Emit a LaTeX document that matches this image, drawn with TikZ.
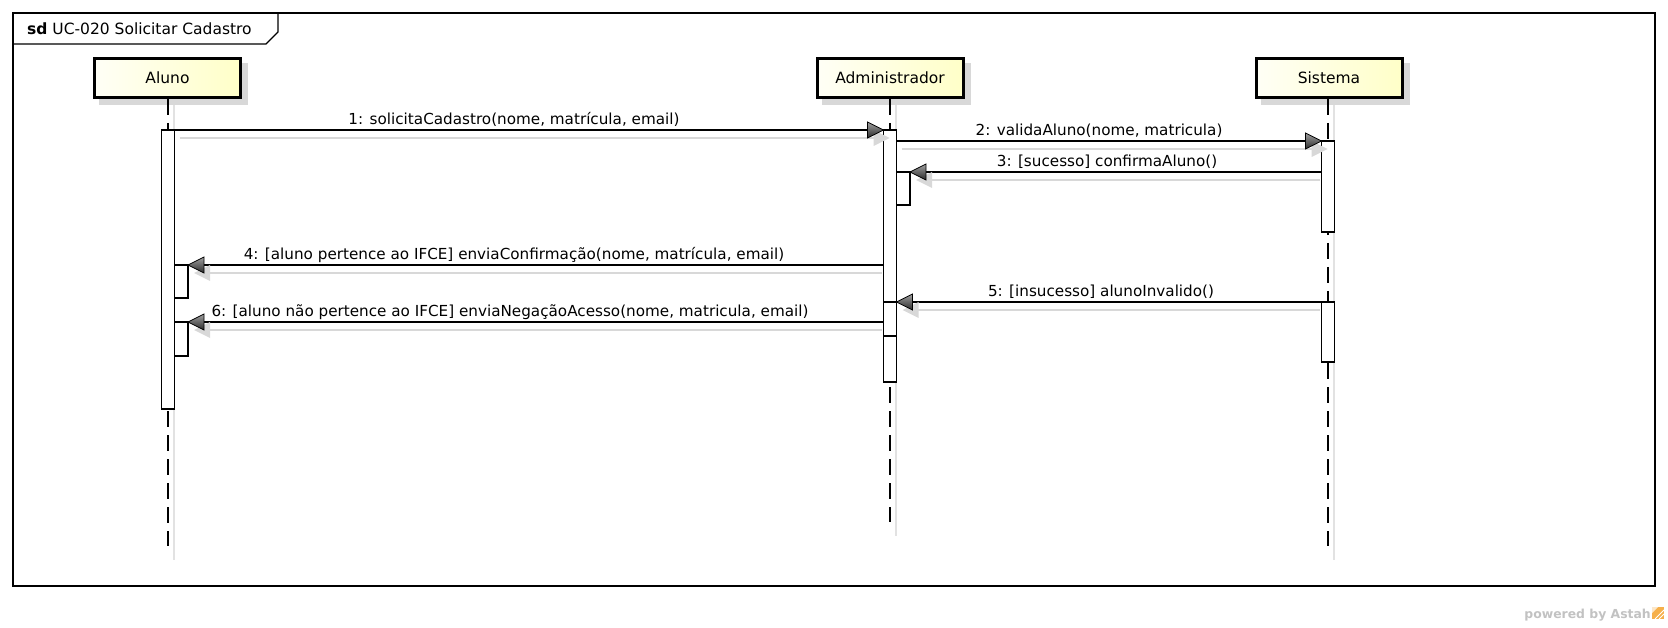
\documentclass[tikz,border=0pt]{standalone}
\usepackage{fontspec}
\setmainfont{DejaVu Sans}
\usetikzlibrary{calc}

\definecolor{shadowgray}{HTML}{D8D8D8}
\definecolor{lifeshadow}{HTML}{E2E2E2}
\definecolor{boxleft}{HTML}{FFFFF6}
\definecolor{boxright}{HTML}{FFFFC8}
\definecolor{tiplight}{HTML}{A0A0A0}
\definecolor{tipdark}{HTML}{2A2A2A}
\definecolor{wmgray}{HTML}{C2C2C2}
\definecolor{logoorange}{HTML}{F6B04A}

\tikzset{
  actor/.style={draw=black, line width=3pt, left color=boxleft, right color=boxright,
    minimum width=146pt, minimum height=39pt, inner sep=0pt,
    font=\fontsize{15.5}{18}\selectfont},
  actorshadow/.style={fill=shadowgray, draw=none, minimum width=149pt, minimum height=42pt, inner sep=0pt},
  lifeline/.style={draw=black, line width=1.3pt, dash pattern=on 16pt off 8pt},
  lifeshade/.style={draw=lifeshadow, line width=1.3pt},
  actbar/.style={draw=black, fill=white, line width=1.2pt, minimum width=13pt, inner sep=0pt},
  msgline/.style={draw=black, line width=1.2pt},
  msgshade/.style={draw=shadowgray, line width=1.4pt},
  msglabel/.style={anchor=base, inner sep=0pt, font=\fontsize{15.2}{18}\selectfont},
  framebox/.style={draw=black, line width=1.2pt},
}

% filled, shaded arrowheads with a soft shadow; #1 is the tip
\newcommand\tipright[1]{%
  \fill[shadowgray] ($(#1)+(6,8)$) -- ++(-16,-8) -- ++(0,16) -- cycle;
  \shadedraw[top color=tiplight, bottom color=tipdark, draw=black, line width=0.8pt]
    (#1) -- ++(-16,-8) -- ++(0,16) -- cycle;}
\newcommand\tipleft[1]{%
  \fill[shadowgray] ($(#1)+(6,8)$) -- ++(16,-8) -- ++(0,16) -- cycle;
  \shadedraw[top color=tiplight, bottom color=tipdark, draw=black, line width=0.8pt]
    (#1) -- ++(16,-8) -- ++(0,16) -- cycle;}

\begin{document}
\begin{tikzpicture}[x=1pt, y=-1pt]
\useasboundingbox (0,0) rectangle (1668,628);
\fill[white] (0,0) rectangle (1668,628);

% diagram frame and its title tab
\draw[framebox] (13,13) rectangle (1655,586);
\draw[framebox] (13,44) -- (266,44) -- (278,32) -- (278,13);
\node[anchor=base west, inner sep=0pt, font=\fontsize{15.5}{18}\selectfont] (title) at (27,35)
  {\textbf{sd} UC-020 Solicitar Cadastro};

% lifeline end points
\coordinate (alEnd) at (168,546);
\coordinate (adEnd) at (890,522);
\coordinate (siEnd) at (1328,546);

% lifeline shadows
\draw[lifeshade] (174,104) -- (174,560);
\draw[lifeshade] (896,104) -- (896,536);
\draw[lifeshade] (1334,104) -- (1334,560);

% participant shadows and boxes
\node[actorshadow] at (173.5,84.5) {};
\node[actorshadow] at (896,84.5) {};
\node[actorshadow] at (1335,84.5) {};
\node[actor] (al) at (167.5,78) {Aluno};
\node[actor] (ad) at (890,78) {Administrador};
\node[actor] (si) at (1329,78) {Sistema};

% dashed lifelines
\draw[lifeline] (al.south -| alEnd) -- (alEnd);
\draw[lifeline] (ad.south -| adEnd) -- (adEnd);
\draw[lifeline] (si.south -| siEnd) -- (siEnd);

% message end points
\coordinate (m1s) at (174.5,130);  \coordinate (m1e) at (883.5,130);
\coordinate (m2s) at (896.5,141);  \coordinate (m2e) at (1321.5,141);
\coordinate (m3s) at (1321.5,172); \coordinate (m3e) at (910,172);
\coordinate (m4s) at (883.5,265);  \coordinate (m4e) at (188,265);
\coordinate (m5s) at (1321.5,302); \coordinate (m5e) at (896.5,302);
\coordinate (m6s) at (883.5,322);  \coordinate (m6e) at (188,322);

% message shadows
\draw[msgshade] ($(m1s)+(5,8)$) -- ($(m1e)+(-8,8)$);
\draw[msgshade] ($(m2s)+(5,8)$) -- ($(m2e)+(-8,8)$);
\draw[msgshade] ($(m3s)+(-2,8)$) -- ($(m3e)+(14,8)$);
\draw[msgshade] ($(m4s)+(-2,8)$) -- ($(m4e)+(14,8)$);
\draw[msgshade] ($(m5s)+(-2,8)$) -- ($(m5e)+(14,8)$);
\draw[msgshade] ($(m6s)+(-2,8)$) -- ($(m6e)+(14,8)$);

% activation bars
\node[actbar, minimum height=279pt] (alA) at (168,269.5) {};
\node[actbar, minimum height=252pt] (adA) at (890,256) {};
\node[actbar, minimum height=91pt] (siA) at (1328,186.5) {};
\node[actbar, minimum height=60pt] (siB) at (1328,332) {};
\node[actbar, minimum height=33pt, minimum width=13.5pt] (adN) at (903.25,188.5) {};
\node[actbar, minimum height=34pt] (adM) at (890,319) {};
\node[actbar, minimum height=33pt, minimum width=13.5pt] (alN) at (181.25,281.5) {};
\node[actbar, minimum height=34pt, minimum width=13.5pt] (alM) at (181.25,339) {};

% messages
\draw[msgline] (m1s) -- (m1e);
\draw[msgline] (m2s) -- (m2e);
\draw[msgline] (m3s) -- (m3e);
\draw[msgline] (m4s) -- (m4e);
\draw[msgline] (m5s) -- (m5e);
\draw[msgline] (m6s) -- (m6e);
\tipright{m1e}
\tipright{m2e}
\tipleft{m3e}
\tipleft{m4e}
\tipleft{m5e}
\tipleft{m6e}

% message labels
\node[msglabel] (l1) at (514,125) {1: solicitaCadastro(nome, matrícula, email)};
\node[msglabel] (l2) at (1099,136) {2: validaAluno(nome, matricula)};
\node[msglabel] (l3) at (1107,167) {3: [sucesso] confirmaAluno()};
\node[msglabel] (l4) at (514,260) {4: [aluno pertence ao IFCE] enviaConfirmação(nome, matrícula, email)};
\node[msglabel] (l5) at (1101,297) {5: [insucesso] alunoInvalido()};
\node[msglabel] (l6) at (510,317) {6: [aluno não pertence ao IFCE] enviaNegaçãoAcesso(nome, matricula, email)};

% watermark
\node[anchor=base east, inner sep=0pt, text=wmgray, font=\bfseries\fontsize{12.4}{14}\selectfont] (wm) at (1651,618) {powered by Astah};
\fill[logoorange] (1652,607) rectangle (1664,619);
\fill[white!70!logoorange] (1652,607) -- (1658,607) -- (1652,613) -- cycle;
\draw[white, line width=1pt] (1655,619) -- (1664,610);
\draw[white, line width=1pt] (1659,619) -- (1664,614);
\end{tikzpicture}
\end{document}
